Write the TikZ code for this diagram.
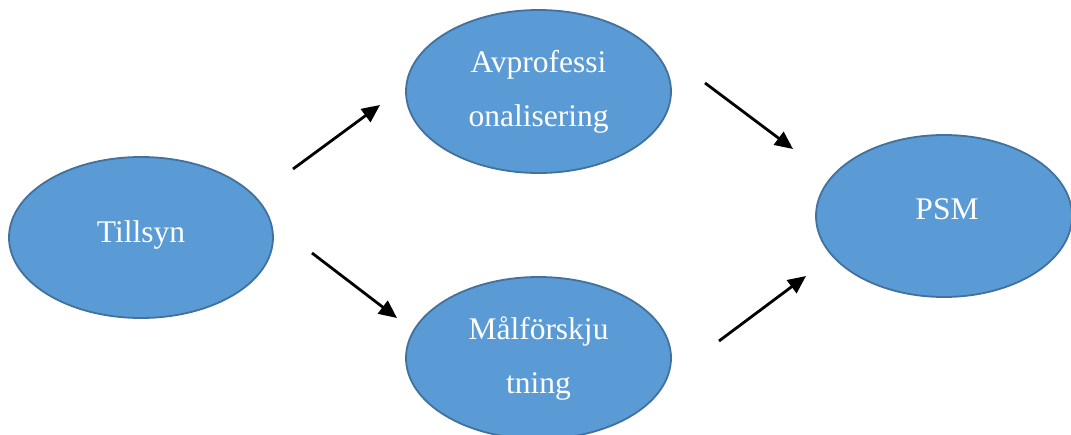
\documentclass[tikz,border=0pt]{standalone}
\usepackage{fontspec}
\setmainfont{Liberation Serif}
\usetikzlibrary{shapes.geometric,arrows.meta}
\definecolor{ellfill}{HTML}{5B9BD5}
\definecolor{elldraw}{HTML}{41719C}
\tikzset{
  bubble/.style={ellipse, fill=ellfill, draw=elldraw, line width=1.8pt, inner sep=0pt,
    text=white, align=center, font=\fontsize{31.5}{54}\selectfont},
  flow/.style={line width=2.8pt, -{Triangle[length=18pt,width=16pt]}}
}
\begin{document}
\begin{tikzpicture}[x=1pt,y=-1pt]
\useasboundingbox (0,0) rectangle (1071,434);
\node[bubble, minimum width=264pt, minimum height=161pt, text depth=12pt] (till) at (141,237.5) {Tillsyn};
\node[bubble, minimum width=265pt, minimum height=163pt] (avp) at (538.5,91.5) {Avprofessi\\onalisering};
\node[bubble, minimum width=265pt, minimum height=162pt] (mal) at (538.5,358) {Målförskju\\tning};
\node[bubble, minimum width=256pt, minimum height=162pt, text depth=14.5pt, xshift=0pt] (psm) at (944,216) {\hspace*{6pt}PSM};
\coordinate (a1s) at (293,169);
\coordinate (a1e) at (380,105);
\coordinate (a2s) at (312,253);
\coordinate (a2e) at (397,318);
\coordinate (a3s) at (705,83);
\coordinate (a3e) at (793,149);
\coordinate (a4s) at (719,341);
\coordinate (a4e) at (806,276);
\draw[flow] (a1s) -- (a1e);
\draw[flow] (a2s) -- (a2e);
\draw[flow] (a3s) -- (a3e);
\draw[flow] (a4s) -- (a4e);
\end{tikzpicture}
\end{document}
